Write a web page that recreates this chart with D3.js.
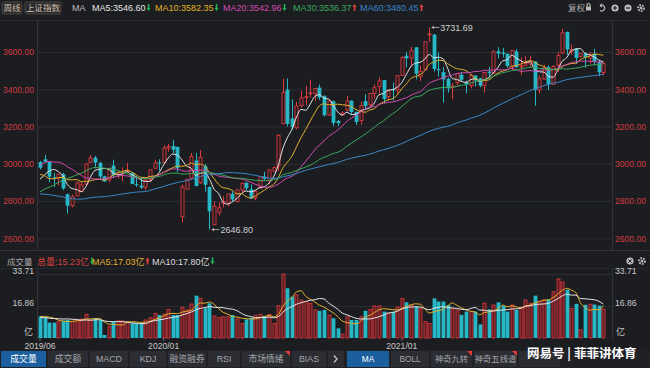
<!DOCTYPE html>
<html><head><meta charset="utf-8">
<script src="https://cdn.jsdelivr.net/npm/d3@7"></script>
<style>
html,body{margin:0;padding:0;background:#1c1d21;overflow:hidden;}
svg{display:block;font-family:"Liberation Sans",Arial,"Noto Sans CJK SC",sans-serif;}
</style></head><body>
<svg id="c" width="650" height="368"></svg>
<script>
// ---------------- DATA ----------------
const weeks = ["2019-06-28","2019-07-05","2019-07-12","2019-07-19","2019-07-26","2019-08-02","2019-08-09","2019-08-16","2019-08-23","2019-08-30",
"2019-09-06","2019-09-12","2019-09-20","2019-09-27","2019-09-30","2019-10-11","2019-10-18","2019-10-25","2019-11-01","2019-11-08",
"2019-11-15","2019-11-22","2019-11-29","2019-12-06","2019-12-13","2019-12-20","2019-12-27","2020-01-03","2020-01-10","2020-01-17",
"2020-01-23","2020-02-07","2020-02-14","2020-02-21","2020-02-28","2020-03-06","2020-03-13","2020-03-20","2020-03-27","2020-04-03",
"2020-04-10","2020-04-17","2020-04-24","2020-04-30","2020-05-08","2020-05-15","2020-05-22","2020-05-29","2020-06-05","2020-06-12",
"2020-06-19","2020-06-24","2020-07-03","2020-07-10","2020-07-17","2020-07-24","2020-07-31","2020-08-07","2020-08-14","2020-08-21",
"2020-08-28","2020-09-04","2020-09-11","2020-09-18","2020-09-25","2020-09-30","2020-10-09","2020-10-16","2020-10-23","2020-10-30",
"2020-11-06","2020-11-13","2020-11-20","2020-11-27","2020-12-04","2020-12-11","2020-12-18","2020-12-25","2020-12-31","2021-01-08",
"2021-01-15","2021-01-22","2021-01-29","2021-02-05","2021-02-10","2021-02-19","2021-02-26","2021-03-05","2021-03-12","2021-03-19",
"2021-03-26","2021-04-02","2021-04-09","2021-04-16","2021-04-23","2021-04-30","2021-05-07","2021-05-14","2021-05-21","2021-05-28",
"2021-06-04","2021-06-11","2021-06-18","2021-06-25","2021-07-02","2021-07-09","2021-07-16","2021-07-23","2021-07-30","2021-08-06",
"2021-08-13","2021-08-20","2021-08-27","2021-09-03","2021-09-10","2021-09-17","2021-09-24","2021-09-30","2021-10-08","2021-10-15",
"2021-10-22","2021-10-29","2021-11-05","2021-11-12"];

const opens = [3009,3024,3010,2928,2923,2944,2836,2775,2828,2851,
2890,3008,3033,3005,2933,2914,2990,2941,2955,2963,
2952,2891,2883,2874,2915,2976,3007,3007,3085,3095,
3091,2716,2864,2924,3018,2899,2987,2876,2673,2739,
2786,2789,2839,2796,2859,2898,2863,2817,2870,2931,
2909,2960,2988,3215,3398,3243,3193,3313,3358,3379,
3376,3409,3365,3262,3336,3230,3262,3289,3339,3279,
3232,3337,3317,3378,3415,3449,3361,3399,3397,3474,
3580,3568,3625,3467,3505,3694,3693,3508,3492,3456,
3409,3435,3478,3438,3419,3473,3459,3419,3495,3488,
3604,3597,3590,3520,3603,3524,3529,3536,3549,3396,
3454,3518,3427,3530,3594,3708,3601,3619,3576,3592,
3567,3589,3545,3490];

const highs = [3016,3048,3010,2951,2947,2952,2840,2835,2906,2904,
3003,3048,3042,3011,2936,2980,3022,2960,2981,3005,
2953,2934,2918,2920,2968,3021,3024,3098,3107,3127,
3091,2889,2918,3058,3058,3074,3000,2876,2800,2793,
2826,2839,2852,2861,2898,2902,2890,2858,2935,2957,
2968,2985,3158,3457,3458,3346,3333,3392,3418,3451,
3407,3425,3367,3339,3339,3235,3281,3364,3339,3279,
3333,3373,3378,3425,3465,3450,3399,3435,3474,3578,
3600,3628,3626,3526,3656,3731.69,3697,3597,3519,3462,
3433,3485,3492,3446,3481,3476,3461,3491,3520,3611,
3626,3622,3593,3608,3615,3572,3580,3581,3550,3473,
3531,3528,3530,3601,3723.85,3709,3640,3622,3593,3597,
3600,3617,3556,3540];

const lows = [2970,3002,2901,2875,2883,2859,2733,2766,2826,2849,
2885,3003,2975,2919,2903,2899,2924,2922,2906,2956,
2891,2876,2866,2857,2902,2975,2963,2998,3065,3057,
2955,2685,2864,2913,2880,2892,2850,2646.80,2673,2723,
2766,2771,2796,2794,2842,2859,2813,2805,2870,2910,
2890,2955,2962,3215,3200,3182,3186,3302,3313,3356,
3336,3343,3254,3256,3203,3202,3262,3283,3262,3209,
3209,3288,3307,3349,3378,3324,3340,3339,3375,3474,
3517,3521,3453,3443,3505,3655,3495,3468,3328,3382,
3346,3420,3440,3379,3406,3415,3411,3382,3466,3482,
3565,3572,3516,3500,3515,3476,3524,3517,3312,3376,
3452,3395,3426,3492,3590,3585,3586,3536,3570,3515,
3538,3529,3470,3474];

const closes = [2978.88,3011.06,2930.55,2924.20,2944.54,2867.84,2774.75,2823.82,2897.43,2886.24,
2999.60,3031.24,3006.45,2932.17,2905.19,2973.66,2938.14,2954.38,2958.20,2964.18,
2891.34,2885.29,2871.98,2912.01,2967.68,3004.94,3005.04,3083.79,3092.29,3075.50,
2976.53,2875.96,2917.01,3039.67,2880.30,3034.51,2887.43,2745.62,2772.20,2763.99,
2796.63,2838.49,2808.53,2860.08,2895.34,2868.46,2813.77,2852.35,2930.80,2919.74,
2967.63,2979.55,3152.81,3383.32,3214.13,3196.77,3310.01,3354.04,3360.10,3380.68,
3403.81,3355.37,3260.35,3338.09,3219.42,3218.05,3272.08,3336.36,3278.00,3224.53,
3312.16,3310.10,3377.73,3408.31,3444.58,3347.19,3394.90,3396.56,3473.07,3570.11,
3566.38,3606.75,3483.07,3496.33,3655.09,3696.17,3509.08,3501.99,3453.08,3404.66,
3418.33,3484.39,3450.68,3426.62,3474.17,3446.86,3418.87,3490.38,3486.56,3600.78,
3591.84,3589.75,3525.10,3607.56,3518.76,3524.09,3539.30,3550.40,3397.36,3458.23,
3516.30,3427.33,3522.16,3581.73,3703.11,3613.97,3613.07,3568.17,3592.17,3572.37,
3582.60,3547.34,3491.57,3539.10];

// weekly volume, 亿
const volumes = [11.4,10.9,8.1,8.1,8.6,9.1,9.5,8.6,9.5,10.0,
12.5,9.5,10.0,9.5,1.6,6.0,8.6,9.0,9.0,8.6,
7.8,7.8,7.8,9.5,10.7,13.0,12.1,12.6,15.1,12.1,
12.1,16.2,14.8,17.9,22.3,20.9,15.7,18.3,11.6,10.7,
11.2,11.2,12.1,10.0,7.7,9.8,10.7,12.0,12.5,11.6,
12.5,7.7,17.0,33.71,26.2,21.8,22.7,20.0,19.2,18.3,
14.8,14.3,14.8,12.1,10.4,5.1,2.1,11.2,9.5,9.5,
11.2,14.3,15.1,16.9,16.9,13.9,13.1,13.9,16.3,20.9,
18.8,17.4,16.6,15.5,8.6,7.7,20.9,19.2,19.2,17.4,
15.6,14.8,12.2,13.9,13.9,13.9,7.2,18.3,15.1,17.4,
18.8,17.0,13.9,17.4,14.8,16.3,20.0,18.3,22.3,19.2,
20.0,20.4,24.4,31.1,29.5,25.5,15.5,18.0,4.35,17.5,
17.8,17.6,17.02,15.23];

// history before the visible window, only used for the moving averages
const priorCloses = [3082.23,3091.03,3163.26,3193.30,3141.30,3075.14,3067.15,3021.90,2889.76,2847.42,
2747.23,2831.18,2829.27,2873.59,2740.44,2795.31,2668.97,2729.43,2725.25,2702.30,
2681.64,2797.48,2821.35,2606.91,2550.47,2598.85,2676.48,2598.87,2679.11,2579.48,
2588.19,2605.89,2593.74,2516.25,2493.90,2514.87,2553.83,2596.01,2601.72,2618.23,
2682.39,2804.23,2994.01,2969.86,3021.75,3104.15,3090.76,3246.57,3188.63,3270.80,
3086.40,3078.34,2939.21,2882.30,2852.99,2898.70,2827.80,2881.97,3001.98];
const priorVolumes = [13.6,11.2,9.9,9.4,10.8,9.0,10.3,10.6,13.9];

const priceTicks = [2600,2800,3000,3200,3400,3600];
const volTickLabels = ["33.71","16.86"];
const volTickValues = [33.71,16.86];
const dateTicks = [["2019-06-28","2019/06"],["2020-01-03","2020/01"],["2021-01-08","2021/01"]];
const maPeriods = [5,10,20,30,60];
const maColors = ["#e6e6e6","#e3b22b","#d24ab2","#3aa85a","#3b86c8"];
const maLabels = ["MA5:3546.60","MA10:3582.35","MA20:3542.96","MA30:3536.37","MA60:3480.45"];
const maTrend = ["down","down","down","up","up"];
const volMaPeriods = [5,10];
const volMaColors = ["#e3b22b","#e6e6e6"];
const volLabels = ["总量:15.23亿","MA5:17.03亿","MA10:17.80亿"];
const volLabelColors = ["#d8413f","#e3b22b","#dcdcdc"];
const volTrend = ["down","up","down"];
const tabsLeft = ["成交量","成交额","MACD","KDJ","融资融券","RSI","市场情绪","BIAS"];
const tabsRight = ["MA","BOLL","神奇九转","神奇五线谱",""];
const highLabel = "3731.69", lowLabel = "2646.80";

// ---------------- STYLE / LAYOUT ----------------
const UP = "#e1393f", DOWN = "#27b8c8", BG = "#1c1d21", GRID = "#2c2e34", AXIS = "#d03a40";
const plotL = 37, plotR = 612;
const svg = d3.select("#c");
svg.append("rect").attr("width",650).attr("height",368).attr("fill",BG);

const step = 4.58, pad = 0.25;
const x = d3.scaleBand().domain(weeks)
  .range([40 - step*(1+pad)/2, 40 - step*(1+pad)/2 + step*(weeks.length+pad)])
  .padding(pad);
const bw = x.bandwidth();
const cx = w => x(w) + bw/2;
const y = d3.scaleLinear().domain([2600,3600]).range([238.3,52]);
const yv = d3.scaleLinear().domain([0,33.71]).range([338,274]);

// moving averages over full history
function movAvg(series, offset, p){
  return weeks.map((w,i)=>{ const e = offset+i; return d3.mean(series.slice(e-p+1,e+1)); });
}
const allCloses = priorCloses.concat(closes);
const allVols = priorVolumes.concat(volumes);

// panel frames
const g = svg.append("g");
g.append("line").attr("x1",0).attr("x2",650).attr("y1",20.5).attr("y2",20.5).attr("stroke","#2a2b30");
g.append("line").attr("x1",0).attr("x2",650).attr("y1",250.5).attr("y2",250.5).attr("stroke","#33343a");
g.append("line").attr("x1",0).attr("x2",650).attr("y1",268.5).attr("y2",268.5).attr("stroke","#26272c");
[plotL, plotR].forEach(px=>{
  g.append("line").attr("x1",px+0.5).attr("x2",px+0.5).attr("y1",20).attr("y2",250).attr("stroke","#33343a");
  g.append("line").attr("x1",px+0.5).attr("x2",px+0.5).attr("y1",268).attr("y2",340).attr("stroke","#33343a");
});

// price grid + axes
const yAxisL = d3.axisLeft(y).tickValues(priceTicks).tickFormat(d3.format(".2f")).tickSize(-(plotR-plotL)).tickPadding(3);
const ax = g.append("g").attr("transform",`translate(${plotL},0)`).call(yAxisL);
ax.select(".domain").remove();
ax.selectAll(".tick line").attr("stroke",GRID).attr("stroke-width",1);
ax.selectAll(".tick text").attr("fill",AXIS).attr("font-size","8.6px").attr("font-family","Liberation Sans, Arial");
const yAxisR = d3.axisRight(y).tickValues(priceTicks).tickFormat(d3.format(".2f")).tickSize(0).tickPadding(3);
const axr = g.append("g").attr("transform",`translate(${plotR},0)`).call(yAxisR);
axr.select(".domain").remove();
axr.selectAll(".tick text").attr("fill",AXIS).attr("font-size","8.6px").attr("font-family","Liberation Sans, Arial");

// volume grid + axes
const vAxL = d3.axisLeft(yv).tickValues(volTickValues).tickFormat((d,i)=>volTickLabels[i]).tickSize(-(plotR-plotL)).tickPadding(3);
const vax = g.append("g").attr("transform",`translate(${plotL},0)`).call(vAxL);
vax.select(".domain").remove();
vax.selectAll(".tick line").attr("stroke",GRID);
vax.selectAll(".tick text").attr("fill","#c8c8c8").attr("font-size","8.6px").attr("dy","-0.1em");
const vAxR = d3.axisRight(yv).tickValues(volTickValues).tickFormat((d,i)=>volTickLabels[i]).tickSize(0).tickPadding(3);
const vaxr = g.append("g").attr("transform",`translate(${plotR},0)`).call(vAxR);
vaxr.select(".domain").remove();
vaxr.selectAll(".tick text").attr("fill","#c8c8c8").attr("font-size","8.6px").attr("dy","-0.1em");
g.append("text").attr("x",plotL-4).attr("y",335).attr("text-anchor","end").attr("fill","#c8c8c8").attr("font-size","9px").text("亿");
g.append("text").attr("x",plotR+4).attr("y",335).attr("fill","#c8c8c8").attr("font-size","9px").text("亿");

// clip
const defs = svg.append("defs");
defs.append("clipPath").attr("id","pc").append("rect").attr("x",plotL+1).attr("y",21).attr("width",plotR-plotL-1).attr("height",229);
defs.append("clipPath").attr("id","vc").append("rect").attr("x",plotL+1).attr("y",269).attr("width",plotR-plotL-1).attr("height",70);

// candles
const cg = svg.append("g").attr("clip-path","url(#pc)");
weeks.forEach((w,i)=>{
  const o=opens[i], c=closes[i], h=highs[i], l=lows[i];
  const up = c >= o;
  const col = up ? UP : DOWN;
  const top = y(Math.max(o,c)), bot = y(Math.min(o,c));
  const xc = Math.round(cx(w)) + 0.5;
  if (up) {
    cg.append("line").attr("x1",xc).attr("x2",xc).attr("y1",y(h)).attr("y2",top).attr("stroke",col);
    cg.append("line").attr("x1",xc).attr("x2",xc).attr("y1",bot).attr("y2",y(l)).attr("stroke",col);
    cg.append("rect").attr("x",xc-1.5).attr("y",top).attr("width",3).attr("height",Math.max(0.8,bot-top))
      .attr("fill",BG).attr("stroke",col).attr("stroke-width",0.9);
  } else {
    cg.append("line").attr("x1",xc).attr("x2",xc).attr("y1",y(h)).attr("y2",y(l)).attr("stroke",col);
    cg.append("rect").attr("x",xc-1.9).attr("y",top).attr("width",3.8).attr("height",Math.max(1,bot-top)).attr("fill",col);
  }
});

// price MAs
maPeriods.forEach((p,k)=>{
  const vals = movAvg(allCloses, priorCloses.length, p);
  const line = d3.line().x((d,i)=>cx(weeks[i])).y(d=>y(d)).curve(d3.curveMonotoneX);
  cg.append("path").datum(vals).attr("d",line).attr("fill","none").attr("stroke",maColors[k]).attr("stroke-width",1);
});

// high / low marks
function mark(idx, val, label){
  const xx = cx(weeks[idx]) + 2, yy = y(val);
  const a = svg.append("g");
  a.append("line").attr("x1",xx+1).attr("x2",xx+8).attr("y1",yy).attr("y2",yy).attr("stroke","#bdbdbd").attr("stroke-width",0.8);
  a.append("path").attr("d",`M${xx},${yy}l2.5,-1.6l0,3.2z`).attr("fill","#bdbdbd");
  a.append("text").attr("x",xx+9).attr("y",yy+3.2).attr("fill","#cfcfcf").attr("font-size","9px").text(label);
}
mark(highs.indexOf(d3.max(highs)), d3.max(highs), highLabel);
mark(lows.indexOf(d3.min(lows)), d3.min(lows), lowLabel);

// volume bars
const vg = svg.append("g").attr("clip-path","url(#vc)");
weeks.forEach((w,i)=>{
  const up = closes[i] >= opens[i];
  const xc = Math.round(cx(w)) + 0.5;
  const yy = yv(volumes[i]);
  if (up) vg.append("rect").attr("x",xc-1.5).attr("y",yy).attr("width",3).attr("height",338-yy)
      .attr("fill","#5c1e23").attr("stroke",UP).attr("stroke-width",0.8);
  else vg.append("rect").attr("x",xc-1.9).attr("y",yy).attr("width",3.8).attr("height",338-yy).attr("fill",DOWN);
});
volMaPeriods.forEach((p,k)=>{
  const vals = movAvg(allVols, priorVolumes.length, p);
  const line = d3.line().x((d,i)=>cx(weeks[i])).y(d=>yv(d)).curve(d3.curveMonotoneX);
  vg.append("path").datum(vals).attr("d",line).attr("fill","none").attr("stroke",volMaColors[k]).attr("stroke-width",1);
});

// date labels
dateTicks.forEach(([w,lab])=>{
  svg.append("line").attr("x1",cx(w)).attr("x2",cx(w)).attr("y1",338).attr("y2",341).attr("stroke","#666");
  svg.append("text").attr("x",cx(w)).attr("y",348.5).attr("text-anchor","middle").attr("fill","#c8c8c8").attr("font-size","8.6px").text(lab);
});

// header
function arrow(sel, xx, yy, dir){
  const colr = dir==="up" ? "#e8403f" : "#22b35a";
  const p = dir==="up" ? `M${xx},${yy-4}l2,3l-1.2,0l0,4l-1.6,0l0,-4l-1.2,0z` : `M${xx},${yy+3}l2,-3l-1.2,0l0,-4l-1.6,0l0,4l-1.2,0z`;
  sel.append("path").attr("d",p).attr("fill",colr);
}
const hd = svg.append("g");
[["周线",2,22],["上证指数",25,61]].forEach(([t,a,b])=>{
  hd.append("rect").attr("x",a).attr("y",2).attr("width",b-a).attr("height",12).attr("rx",1.5).attr("fill","#2b2a2c").attr("stroke","#4a4542");
  hd.append("text").attr("x",(a+b)/2).attr("y",11).attr("text-anchor","middle").attr("fill","#cbbfa8").attr("font-size","8.5px").text(t);
});
hd.append("text").attr("x",72).attr("y",11.3).attr("fill","#bdbdbd").attr("font-size","9px").text("MA");
const maX = [92,155,223,293,360];
maLabels.forEach((t,k)=>{
  const tx = hd.append("text").attr("x",maX[k]).attr("y",11.3).attr("fill",maColors[k]).attr("font-size","9px").text(t);
  const len = tx.node().getComputedTextLength();
  arrow(hd, maX[k]+len+3, 8, maTrend[k]);
});
hd.append("text").attr("x",568).attr("y",11).attr("fill","#aaa").attr("font-size","8.5px").text("复权");
// icons
const ic = hd.append("g").attr("stroke","#bbb").attr("fill","none").attr("stroke-width",1.2);
ic.append("rect").attr("x",586).attr("y",6.5).attr("width",5).attr("height",4).attr("fill","#bbb").attr("stroke","none");
ic.append("path").attr("d","M587,6.5v-1.5a1.5,1.5 0 0 1 3,0v1.5");
ic.append("path").attr("d","M600,5.5a3,3 0 1 1 0,5 M600,5.5l2,-1.5 M600,5.5l2,1.5");
ic.append("circle").attr("cx",615).attr("cy",8).attr("r",3.6).attr("fill","#bbb").attr("stroke","none");
ic.append("path").attr("d","M613,8h4M615,6v4").attr("stroke",BG);
ic.append("circle").attr("cx",628).attr("cy",8).attr("r",3.6).attr("fill","#bbb").attr("stroke","none");
ic.append("path").attr("d","M626,8h4").attr("stroke",BG);
ic.append("circle").attr("cx",641).attr("cy",8).attr("r",2.8).attr("stroke-width",2.2).attr("stroke-dasharray","1.6 1.2");
ic.append("circle").attr("cx",641).attr("cy",8).attr("r",1.2).attr("fill","#bbb").attr("stroke","none");

// volume header
const vh = svg.append("g");
vh.append("text").attr("x",7).attr("y",264.5).attr("fill","#a8a8a8").attr("font-size","8.5px").text("成交量");
const vX = [37,92,152];
volLabels.forEach((t,k)=>{
  const tx = vh.append("text").attr("x",vX[k]).attr("y",264.5).attr("fill",volLabelColors[k]).attr("font-size","9px").text(t);
  const len = tx.node().getComputedTextLength();
  arrow(vh, vX[k]+len+3, 261.5, volTrend[k]);
});
const ic2 = vh.append("g");
ic2.append("circle").attr("cx",630).attr("cy",261).attr("r",3.6).attr("fill","#bbb");
ic2.append("path").attr("d","M628.3,259.3l3.4,3.4M631.7,259.3l-3.4,3.4").attr("stroke",BG).attr("stroke-width",1);
ic2.append("circle").attr("cx",642).attr("cy",261).attr("r",2.8).attr("fill","none").attr("stroke","#bbb").attr("stroke-width",2.2).attr("stroke-dasharray","1.6 1.2");
ic2.append("circle").attr("cx",642).attr("cy",261).attr("r",1.2).attr("fill","#bbb");

// tab bar
const tb = svg.append("g");
tb.append("rect").attr("x",0).attr("y",350).attr("width",650).attr("height",18).attr("fill","#202125");
const leftPos = [[1,46],[48,88],[90,128],[130,166],[168,206],[208,240],[242,290],[292,326]];
tabsLeft.forEach((t,k)=>{
  const [a,b] = leftPos[k];
  tb.append("rect").attr("x",a).attr("y",351).attr("width",b-a).attr("height",16).attr("fill",k===0?"#1c5f9f":"#2c2d32");
  tb.append("text").attr("x",(a+b)/2).attr("y",362).attr("text-anchor","middle").attr("fill",k===0?"#ffffff":"#a5a7ac").attr("font-size","8.8px").text(t);
});
tb.append("rect").attr("x",328).attr("y",351).attr("width",16).attr("height",16).attr("fill","#2c2d32");
tb.append("path").attr("d","M334,355.5l3,3.5l-3,3.5").attr("fill","none").attr("stroke","#c8c8c8").attr("stroke-width",1.2);
const rightPos = [[347,389],[391,429],[431,472],[474,517],[519,560]];
tabsRight.forEach((t,k)=>{
  const [a,b] = rightPos[k];
  tb.append("rect").attr("x",a).attr("y",351).attr("width",b-a).attr("height",16).attr("fill",k===0?"#1c5f9f":"#2c2d32");
  if (t) tb.append("text").attr("x",(a+b)/2).attr("y",362).attr("text-anchor","middle").attr("fill",k===0?"#ffffff":"#a5a7ac").attr("font-size","8.3px").text(t);
});
[290,472,517].forEach(px=>{
  tb.append("path").attr("d",`M${px-5},351h5v5z`).attr("fill","#e8383d");
});
// watermark
svg.append("text").attr("x",527).attr("y",358).attr("fill","#ffffff").attr("font-size","12.5px").attr("font-weight","bold")
  .attr("font-family","Noto Sans CJK SC").text("网易号 | 菲菲讲体育");
</script>
</body></html>
